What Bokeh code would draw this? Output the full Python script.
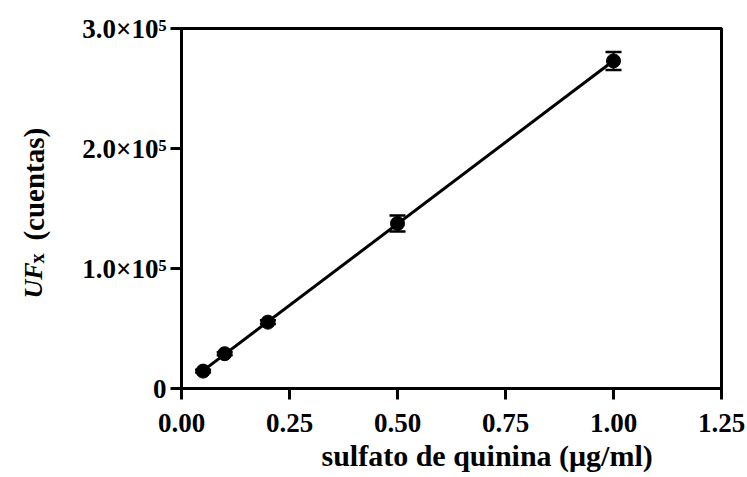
import numpy as np
from bokeh.plotting import figure
from bokeh.layouts import row
from bokeh.models import (Range1d, FixedTicker, ColumnDataSource, Whisker, TeeHead, Title)
from bokeh.core.properties import value
from bokeh.embed import file_html
from bokeh.resources import INLINE

# ---- data ----
conc = [0.05, 0.10, 0.20, 0.50, 1.00]
uf = [14500, 29000, 55300, 137500, 273000]
uf_err = [1200, 1200, 1500, 6700, 7500]

x_ticks = [0.0, 0.25, 0.5, 0.75, 1.0, 1.25]
x_tick_labels = ["0.00", "0.25", "0.50", "0.75", "1.00", "1.25"]
y_ticks = [0, 100000, 200000, 300000]
y_tick_labels = ["0", "1.0×10⁵", "2.0×10⁵", "3.0×10⁵"]

x_title = "sulfato de quinina (μg/ml)"
y_title_main = "UF"
y_title_sub = "x"
y_title_rest = "(cuentas)"

FONT = "Liberation Serif"
W, H = 747, 477
YW = 60  # width of the strip holding the y title
Y0, Y1 = 0, 300000

# ---- main chart ----
p = figure(width=W - YW, height=H, output_backend="svg", toolbar_location=None,
           x_range=Range1d(0, 1.25), y_range=Range1d(Y0, Y1),
           min_border_left=181 - YW, min_border_right=26, min_border_top=28, min_border_bottom=89)
p.grid.visible = False
p.background_fill_color = "white"
p.border_fill_color = "white"
p.outline_line_color = "black"
p.outline_line_width = 3

for ax, ticks, labels in ((p.xaxis[0], x_ticks, x_tick_labels), (p.yaxis[0], y_ticks, y_tick_labels)):
    ax.ticker = FixedTicker(ticks=ticks)
    ax.major_label_overrides = dict(zip(ticks, labels))
    ax.axis_line_width = 3
    ax.major_tick_line_width = 3
    ax.major_tick_out = 11
    ax.major_tick_in = 0
    ax.minor_tick_line_color = None
    ax.major_label_text_font = FONT
    ax.major_label_text_font_style = "bold"
    ax.major_label_text_font_size = "27px"
    ax.major_label_text_color = "black"
    ax.axis_line_color = "black"
    ax.major_tick_line_color = "black"
p.xaxis.major_label_standoff = 14
p.yaxis.major_label_standoff = 4

# fitted line
slope, intercept = np.polyfit(conc, uf, 1)
xf = np.array([min(conc), max(conc)])
p.line(xf, slope * xf + intercept, line_color="black", line_width=3)

src = ColumnDataSource(dict(x=conc, y=uf,
                            lo=[a - b for a, b in zip(uf, uf_err)],
                            hi=[a + b for a, b in zip(uf, uf_err)]))
p.add_layout(Whisker(source=src, base="x", lower="lo", upper="hi",
                     line_width=2, line_color="black",
                     upper_head=TeeHead(size=16, line_width=2.5, line_color="black"),
                     lower_head=TeeHead(size=16, line_width=2.5, line_color="black")))
p.scatter("x", "y", source=src, size=14, fill_color="black", line_color="black")

# x title below the axis
p.add_layout(Title(text=x_title, align="left", offset=140, vertical_align="top", standoff=8,
                   text_font=FONT, text_font_style="bold", text_font_size="30px",
                   text_color="black"), "below")

# ---- strip with the y title (its frame lines up with the chart's frame) ----
yf = figure(width=YW, height=H, output_backend="svg", toolbar_location=None,
            x_range=Range1d(0, YW), y_range=Range1d(Y0, Y1),
            x_axis_type=None, y_axis_type=None, min_border=0)
yf.grid.visible = False
yf.outline_line_color = None
yf.background_fill_color = "white"
yf.border_fill_color = "white"
ang = np.pi / 2
common = dict(angle=ang, text_align="left", text_baseline="alphabetic",
              text_font=value(FONT), text_color="black")
yf.text(x=[33], y=[75000], text=[y_title_main], text_font_style="bold italic",
        text_font_size="26px", **common)
yf.text(x=[36], y=[104200], text=[y_title_sub], text_font_style="bold",
        text_font_size="20px", **common)
yf.text(x=[33], y=[123300], text=[y_title_rest], text_font_style="bold",
        text_font_size="29px", **common)

layout = row(yf, p, spacing=0)
open("out.html", "w").write(file_html(layout, INLINE))
